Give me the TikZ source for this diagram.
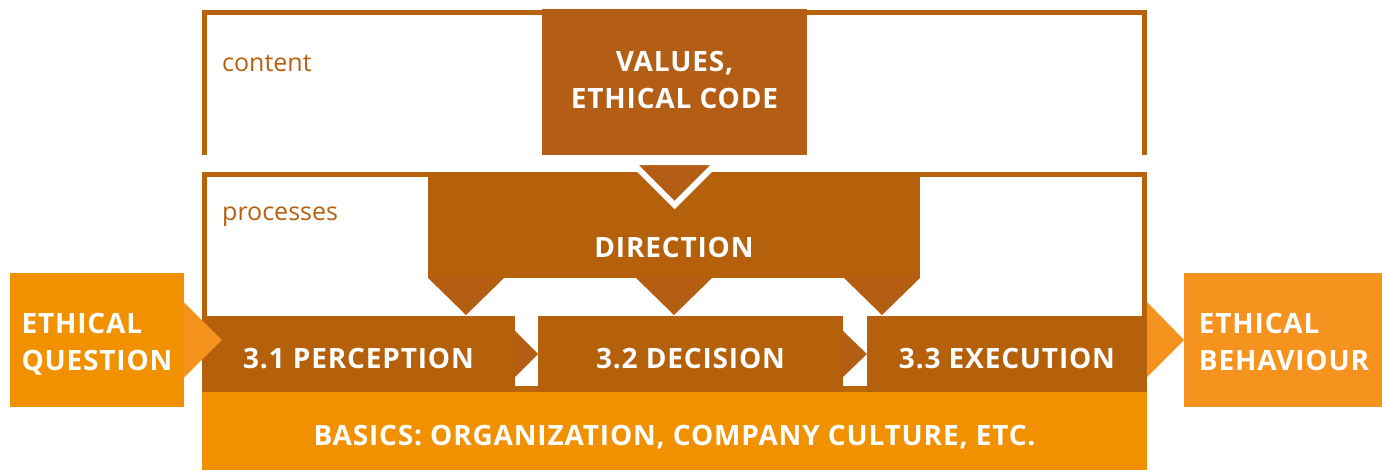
\documentclass[tikz,border=0pt]{standalone}
\usepackage{fontspec}
\setmainfont{Open Sans}
\usetikzlibrary{calc}

\definecolor{framebrown}{HTML}{B8620A}
\definecolor{boxbrown}{HTML}{B5600A}
\definecolor{tipbrown}{HTML}{B45E14}
\definecolor{valbrown}{HTML}{B35E14}
\definecolor{stripbrown}{HTML}{B8660E}
\definecolor{baseorange}{HTML}{F29100}
\definecolor{lightorange}{HTML}{F6921E}
\definecolor{labelbrown}{HTML}{B8600F}

\tikzset{
  capsfont/.style={font=\bfseries\fontsize{28}{37}\selectfont\addfontfeatures{LetterSpace=3}},
  box/.style={rectangle, inner sep=0pt, outer sep=0pt, text=white, capsfont, align=center},
  oneline/.style={text height=28pt, text depth=0pt},
  brownbox/.style={box, oneline, fill=boxbrown},
  orangebox/.style={box, fill=baseorange},
  framestroke/.style={draw=framebrown, line width=5pt, line join=miter},
  arealabel/.style={inner sep=0pt, anchor=base west, text=labelbrown, font=\fontsize{25}{29}\selectfont},
}

\begin{document}
\begin{tikzpicture}[x=1pt, y=-1pt]
  \useasboundingbox (0,0) rectangle (1382,471);

  % open frames for the content and process areas
  \draw[framestroke] (204.5,155) -- (204.5,12.5) -- (1144.5,12.5) -- (1144.5,155);
  \draw[framestroke] (204.5,316) -- (204.5,174.5) -- (1144.5,174.5) -- (1144.5,316);
  \node[arealabel] (contentlabel) at (222,71) {content};
  \node[arealabel] (processlabel) at (222,220) {processes};

  % values and direction
  \node[box, fill=valbrown, minimum width=265pt, minimum height=146pt] (values) at (674.5,82) {};
  \node[box] (valuestext) at (674.5,80) {VALUES,\\ETHICAL CODE};
  \node[box, fill=boxbrown, minimum width=492pt, minimum height=106pt] (dir) at (674,225) {};
  \node[box, oneline] (dirtext) at (674,243) {DIRECTION};
  \filldraw[fill=valbrown, draw=white, line width=6pt, line join=miter]
    ($(values.south)+(-43,7)$) -- ++(86,0) -- ++(-43,43) -- cycle;

  % process steps
  \node[brownbox, minimum width=313pt, minimum height=76pt] (p1) at (358.5,354) {3.1 PERCEPTION};
  \node[brownbox, minimum width=305pt, minimum height=76pt] (p2) at (690.5,354) {3.2 DECISION};
  \node[brownbox, minimum width=280pt, minimum height=76pt] (p3) at (1007,354) {3.3 EXECUTION};

  % direction tips pointing at the steps
  \fill[tipbrown] (dir.south west) -- ++(76,0) -- ++(-38,37) -- cycle;
  \fill[tipbrown] ($(dir.south)+(-38,0)$) -- ++(76,0) -- ++(-38,37) -- cycle;
  \fill[tipbrown] (dir.south east) -- ++(-76,0) -- ++(38,37) -- cycle;

  % arrows between the steps
  \fill[stripbrown] ($(p1.south east)+(0,-6)$) rectangle (p2.south west);
  \fill[stripbrown] ($(p2.south east)+(0,-6)$) rectangle (p3.south west);
  \fill[tipbrown] ($(p1.east)+(0,-23)$) -- (p2.west) -- ($(p1.east)+(0,23)$) -- cycle;
  \fill[tipbrown] ($(p2.east)+(0,-23)$) -- (p3.west) -- ($(p2.east)+(0,23)$) -- cycle;

  % basics underneath
  \node[orangebox, oneline, minimum width=945pt, minimum height=78pt] (basics) at (674.5,431) {BASICS: ORGANIZATION, COMPANY CULTURE, ETC.};

  % input and output
  \node[orangebox, minimum width=174pt, minimum height=134pt] (question) at (97,340) {};
  \node[box, align=left] (questiontext) at (97,341.5) {ETHICAL\\\smash{QUESTION}};
  \node[box, fill=lightorange, minimum width=198pt, minimum height=134pt] (behaviour) at (1283,340) {};
  \node[box, align=left] (behaviourtext) at (1284,341.5) {ETHICAL\\BEHAVIOUR};
  \fill[lightorange] ($(question.east)+(0,-37.5)$) -- ($(question.east)+(38,0)$) -- ($(question.east)+(0,37.5)$) -- cycle;
  \fill[lightorange] ($(p3.east)+(0,-52)$) -- (behaviour.west) -- ($(p3.east)+(0,23)$) -- cycle;
\end{tikzpicture}
\end{document}
